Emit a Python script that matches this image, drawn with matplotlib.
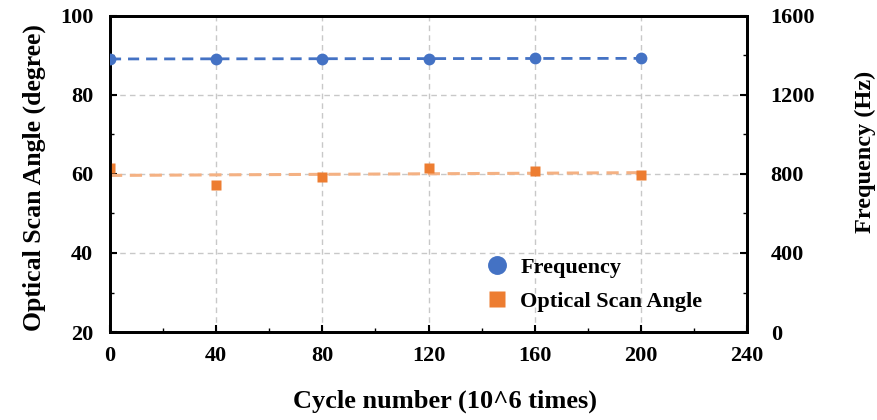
import numpy as np
import matplotlib
matplotlib.use("Agg")
import matplotlib.pyplot as plt
from matplotlib.ticker import MultipleLocator

# data
cycles = [0, 40, 80, 120, 160, 200]
scan_angle = [61.4, 57.2, 59.2, 61.6, 60.7, 59.8]        # degree
frequency = [1382, 1383, 1384, 1384, 1385, 1385]        # Hz

blue = "#4472C4"
orange = "#ED7D31"
orange_light = "#F4B183"
grid_c = "#C8C8C8"

plt.rcParams["font.family"] = ["Liberation Serif", "DejaVu Serif"]
plt.rcParams["font.weight"] = "bold"

fig = plt.figure(figsize=(8.77, 4.20), dpi=100)
ax = fig.add_axes([0.1254, 0.2095, 0.7264, 0.7525])
ax2 = ax.twinx()

# trend lines (linear fits, as in the original spreadsheet chart)
x = np.array(cycles, dtype=float)
k1, b1 = np.polyfit(x, scan_angle, 1)
k2, b2 = np.polyfit(x, frequency, 1)
xs = np.array([x.min(), x.max()])

ax.plot(xs, k1 * xs + b1, ls=(0, (4, 2.5)), color=orange_light, lw=2.2, zorder=2)
ax.plot(cycles, scan_angle, "s", color=orange, ms=7.5, mec="none", zorder=3,
        label="Optical Scan Angle")
ax2.plot(xs, k2 * xs + b2, ls=(0, (4, 2.5)), color=blue, lw=2.0, zorder=2)
ax2.plot(cycles, frequency, "o", color=blue, ms=8.5, mec="none", zorder=3,
         label="Frequency")

ax.set_xlim(0, 240)
ax.set_ylim(20, 100)
ax2.set_ylim(0, 1600)
ax.xaxis.set_major_locator(MultipleLocator(40))
ax.xaxis.set_minor_locator(MultipleLocator(20))
ax.yaxis.set_major_locator(MultipleLocator(20))
ax.yaxis.set_minor_locator(MultipleLocator(10))
ax2.yaxis.set_major_locator(MultipleLocator(400))
ax2.yaxis.set_minor_locator(MultipleLocator(200))

ax.grid(True, which="major", color=grid_c, ls=(0, (4, 3)), lw=1.0)
ax.set_axisbelow(True)

for a in (ax, ax2):
    for sp in a.spines.values():
        sp.set_linewidth(2.0)
ax.tick_params(axis="both", which="major", direction="in", length=5, width=1.5,
               labelsize=16, top=False)
ax.tick_params(axis="both", which="minor", direction="in", length=3, width=1.0, top=False)
ax.tick_params(axis="x", which="both", pad=10)
ax.tick_params(axis="y", which="major", pad=12)
ax2.tick_params(axis="y", which="major", direction="in", length=5, width=1.5,
                labelsize=16, pad=17)
ax2.tick_params(axis="y", which="minor", direction="in", length=3, width=1.0)

ax.set_xlabel("Cycle number (10^6 times)", fontsize=19, fontweight="bold")
ax.set_ylabel("Optical Scan Angle (degree)", fontsize=18.5, fontweight="bold")
ax2.set_ylabel("Frequency (Hz)", fontsize=17.5, fontweight="bold")
ax.xaxis.set_label_coords(0.526, -0.183)
ax.yaxis.set_label_coords(-0.100, 0.49)
ax2.yaxis.set_label_coords(1.169, 0.57)

h1, l1 = ax2.get_legend_handles_labels()
h2, l2 = ax.get_legend_handles_labels()
leg = ax2.legend(h1 + h2, l1 + l2, loc="upper left", bbox_to_anchor=(0.555, 0.30),
                 frameon=False, markerscale=1.6, handlelength=1.2, handletextpad=0.45,
                 labelspacing=0.62, prop={"weight": "bold", "size": 16})

fig.savefig("out.png", dpi=100)
